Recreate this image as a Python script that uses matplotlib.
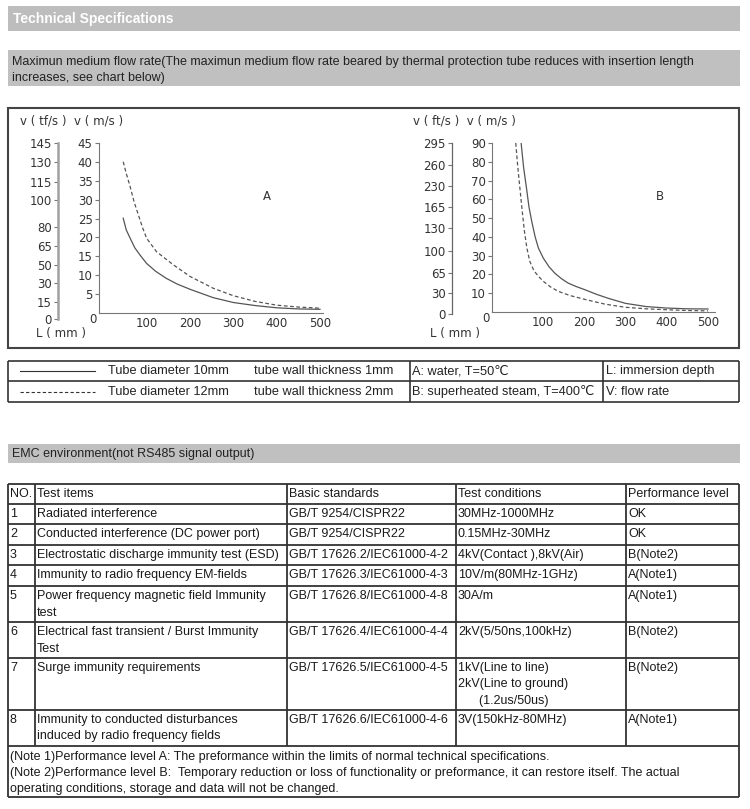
import matplotlib
matplotlib.use('Agg')

import matplotlib.pyplot as plt
from matplotlib.patches import Rectangle

W, H = 750, 809

# --- chart A: water, T=50℃ ---
a_len_10 = [45, 52, 61, 72, 84, 99, 120, 145, 170, 200, 253, 300, 350, 400, 450, 500]
a_v_10 = [25.1, 22.0, 19.8, 17.2, 15.3, 13.1, 11.0, 9.1, 7.6, 6.2, 4.0, 2.7, 1.9, 1.3, 1.0, 0.9]
a_len_12 = [45, 52, 61, 70, 80, 90, 99, 122, 161, 200, 253, 300, 350, 400, 450, 500]
a_v_12 = [40.1, 37.0, 33.5, 29.5, 26.0, 22.5, 19.8, 16.2, 12.7, 9.6, 6.5, 4.5, 3.0, 2.0, 1.5, 1.2]

# --- chart B: superheated steam, T=400℃ ---
b_len_10 = [47, 53, 60, 66, 73, 81, 89, 101, 115, 129, 145, 161, 180, 200, 230, 258, 300, 350, 400, 450, 500]
b_v_10 = [90, 77, 66, 56, 48, 40, 34, 28.6, 24.0, 20.6, 17.7, 15.4, 13.6, 12.0, 9.4, 7.3, 4.6, 2.9, 2.1, 1.7, 1.6]
b_len_12 = [34, 39, 44, 50, 55, 61, 68, 78, 89, 101, 118, 137, 165, 200, 250, 300, 350, 400, 450, 500]
b_v_12 = [90, 77, 66, 53, 43, 34, 27, 22, 19, 16.3, 13.4, 11, 8.8, 6.8, 4.2, 2.5, 1.7, 1.2, 0.8, 0.6]

x_ticks = [100, 200, 300, 400, 500]
a_ms_ticks = [5, 10, 15, 20, 25, 30, 35, 40, 45]
a_ft_pos = [-1.6, 2.9, 8.0, 12.8, 17.6, 22.7, 30, 34.8, 40, 45]
a_ft_labels = ['0', '15', '30', '50', '65', '80', '100', '115', '130', '145']
b_ms_ticks = [10, 20, 30, 40, 50, 60, 70, 80, 90]
b_ft_pos = [-1.0, 10.2, 20.9, 32.7, 44.5, 55.7, 67, 78.3, 90]
b_ft_labels = ['0', '30', '65', '100', '130', '165', '230', '260', '295']

# --- legend table ---
legend_rows = [
    ['Tube diameter 10mm', 'tube wall thickness 1mm', 'A: water, T=50℃', 'L: immersion depth'],
    ['Tube diameter 12mm', 'tube wall thickness 2mm', 'B: superheated steam, T=400℃', 'V: flow rate'],
]

# --- EMC table ---
headers = ['NO.', 'Test items', 'Basic standards', 'Test conditions', 'Performance level']
numbers = ['1', '2', '3', '4', '5', '6', '7', '8']
test_items = ['Radiated interference',
              'Conducted interference (DC power port)',
              'Electrostatic discharge immunity test (ESD)',
              'Immunity to radio frequency EM-fields',
              'Power frequency magnetic field Immunity\ntest',
              'Electrical fast transient / Burst Immunity\nTest',
              'Surge immunity requirements',
              'Immunity to conducted disturbances\ninduced by radio frequency fields']
standards = ['GB/T 9254/CISPR22', 'GB/T 9254/CISPR22',
             'GB/T 17626.2/IEC61000-4-2', 'GB/T 17626.3/IEC61000-4-3',
             'GB/T 17626.8/IEC61000-4-8', 'GB/T 17626.4/IEC61000-4-4',
             'GB/T 17626.5/IEC61000-4-5', 'GB/T 17626.6/IEC61000-4-6']
conditions = ['30MHz-1000MHz', '0.15MHz-30MHz', '4kV(Contact ),8kV(Air)',
              '10V/m(80MHz-1GHz)', '30A/m', '2kV(5/50ns,100kHz)',
              '1kV(Line to line)\n2kV(Line to ground)\n      (1.2us/50us)',
              '3V(150kHz-80MHz)']
levels = ['OK', 'OK', 'B(Note2)', 'A(Note1)', 'A(Note1)', 'B(Note2)', 'B(Note2)', 'A(Note1)']
notes = ['(Note 1)Performance level A: The preformance within the limits of normal technical specifications.',
         '(Note 2)Performance level B:  Temporary reduction or loss of functionality or preformance, it can restore itself. The actual',
         'operating conditions, storage and data will not be changed.']

SANS = ['Liberation Sans', 'DejaVu Sans']
NARROW = ['Liberation Sans Narrow', 'Liberation Sans', 'DejaVu Sans']
CHART = ['DejaVu Sans']

fig = plt.figure(figsize=(W / 100, H / 100), dpi=100)
page = fig.add_axes([0, 0, 1, 1])
page.set_xlim(0, W)
page.set_ylim(H, 0)
page.axis('off')


def box(x0, y0, x1, y1, **kw):
    page.add_patch(Rectangle((x0, y0), x1 - x0, y1 - y0, **kw))


def hline(y, x0, x1, lw=1.3, color='#333333'):
    page.plot([x0, x1], [y, y], color=color, lw=lw, solid_capstyle='butt')


def vline(x, y0, y1, lw=1.3, color='#333333'):
    page.plot([x, x], [y0, y1], color=color, lw=lw, solid_capstyle='butt')


def axes_px(x0, y0, x1, y1):
    return fig.add_axes([x0 / W, 1 - y1 / H, (x1 - x0) / W, (y1 - y0) / H])


# header bars
box(8, 6, 740, 31, fc='#bdbdbd', ec='none')
page.text(13, 18.5, 'Technical Specifications', color='white', fontsize=10,
          fontweight='bold', family=SANS, va='center')
box(8, 50, 740, 86, fc='#c0c0c0', ec='none')
page.text(12, 62, 'Maximun medium flow rate(The maximun medium flow rate beared by thermal protection '
          'tube reduces with insertion length', fontsize=9, family=SANS, va='center', color='#222222')
page.text(12, 78, 'increases, see chart below)', fontsize=9, family=SANS, va='center', color='#222222')

# chart frame
box(8, 108, 739, 348, fc='none', ec='#444444', lw=1.5)


def draw_chart(inner, outer_x, xlim, ymax, ms_ticks, ft_pos, ft_labels, curves, outer_style):
    x0, y_top, x1, y_bot = inner
    ax = axes_px(x0, y_top, x1, y_bot)
    ax.set_facecolor('none')
    ax.set_xlim(*xlim)
    ax.set_ylim(0, ymax)
    for s in ['top', 'right']:
        ax.spines[s].set_visible(False)
    for s in ['left', 'bottom']:
        ax.spines[s].set_color('#777777')
        ax.spines[s].set_linewidth(0.8)
    ax.set_yticks(ms_ticks)
    ax.set_xticks(x_ticks)
    ax.tick_params(axis='y', direction='out', length=3, width=0.8, color='#777777',
                   labelsize=8.5, labelcolor='#333333', pad=1.5)
    ax.tick_params(axis='x', length=0, labelsize=8.5, labelcolor='#333333', pad=3)
    for t in ax.get_xticklabels() + ax.get_yticklabels():
        t.set_family(CHART)
    ax.annotate('0', xy=(0, 0), xycoords='axes fraction', xytext=(-2, -5),
                textcoords='offset points', ha='right', va='center',
                fontsize=8.5, color='#333333', family=CHART)
    (l1, v1), (l2, v2) = curves
    ax.plot(l1, v1, color='#555555', lw=0.9)
    ax.plot(l2, v2, color='#555555', lw=0.9, ls=(0, (3, 2)))

    # outer (ft/s) scale: same vertical scale, a little longer at the bottom
    per_unit = (y_bot - y_top) / ymax
    ox = axes_px(outer_x, y_top, outer_x + 1, y_bot + 3 * per_unit)
    ox.set_facecolor('none')
    ox.set_ylim(-3, ymax)
    for s in ['top', 'right', 'bottom']:
        ox.spines[s].set_visible(False)
    ox.spines['left'].set_color(outer_style[0])
    ox.spines['left'].set_linewidth(outer_style[1])
    ox.spines['left'].set_bounds(ft_pos[0], ymax)
    ox.set_xticks([])
    ox.set_yticks(ft_pos)
    ox.set_yticklabels(ft_labels, family=CHART)
    ox.tick_params(axis='y', direction='out', length=3, width=0.8, color='#777777',
                   labelsize=8.5, labelcolor='#333333', pad=1.5)
    return ax


draw_chart((99, 143.3, 323, 312.7), 58, (-11, 507), 45,
           a_ms_ticks, a_ft_pos, a_ft_labels,
           [(a_len_10, a_v_10), (a_len_12, a_v_12)], ('#a0a0a0', 1.8))
draw_chart((492, 143, 715, 312), 452, (-23.6, 517), 90,
           b_ms_ticks, b_ft_pos, b_ft_labels,
           [(b_len_10, b_v_10), (b_len_12, b_v_12)], ('#666666', 0.9))

page.text(20, 121, 'v ( tf/s )  v ( m/s )', fontsize=8.5, family=CHART, va='center', color='#333333')
page.text(413, 121, 'v ( ft/s )  v ( m/s )', fontsize=8.5, family=CHART, va='center', color='#333333')
page.text(36, 333, 'L ( mm )', fontsize=8.5, family=CHART, va='center', color='#333333')
page.text(430, 333, 'L ( mm )', fontsize=8.5, family=CHART, va='center', color='#333333')
page.text(267, 196, 'A', fontsize=8.5, family=CHART, ha='center', va='center', color='#333333')
page.text(660, 196, 'B', fontsize=8.5, family=CHART, ha='center', va='center', color='#333333')

# legend table
leg_y = [361, 381, 402]
leg_x = [8, 410, 603, 739]
for y in leg_y:
    hline(y, leg_x[0], leg_x[-1], lw=1.2)
for x in leg_x:
    vline(x, leg_y[0], leg_y[-1], lw=1.2)
leg_text_x = [108, 254, 412, 606]
for i, row in enumerate(legend_rows):
    yc = (leg_y[i] + leg_y[i + 1]) / 2
    page.plot([20, 95], [yc, yc], color='#333333', lw=0.8,
              ls='-' if i == 0 else (0, (3, 2)))
    for x, txt in zip(leg_text_x, row):
        page.text(x, yc, txt, fontsize=9.2, family=NARROW, va='center', color='#222222')

# EMC bar
box(8, 444, 740, 463, fc='#c0c0c0', ec='none')
page.text(12, 453.5, 'EMC environment(not RS485 signal output)', fontsize=9, family=SANS,
          va='center', color='#222222')

# EMC table
col_x = [8, 35, 287, 456, 626, 739]
row_y = [484, 504, 524, 545, 565, 586, 622, 658, 710, 746, 797]
for y in row_y:
    hline(y, col_x[0], col_x[-1])
for x in col_x:
    if x in (col_x[0], col_x[-1]):
        vline(x, row_y[0], row_y[-1])
    else:
        vline(x, row_y[0], row_y[-2])


def cell(ci, y_top, txt):
    for k, line in enumerate(txt.split('\n')):
        page.text(col_x[ci] + 2, y_top + 10 + k * 16.5, line, fontsize=9, family=SANS,
                  va='center', color='#1a1a1a')


for ci, h in enumerate(headers):
    cell(ci, row_y[0], h)
for r in range(len(numbers)):
    y0 = row_y[r + 1]
    for ci, txt in enumerate([numbers[r], test_items[r], standards[r], conditions[r], levels[r]]):
        cell(ci, y0, txt)
for k, line in enumerate(notes):
    page.text(10, row_y[-2] + 11 + k * 16, line, fontsize=9, family=SANS,
              va='center', color='#1a1a1a')

fig.savefig('out.png', dpi=100)
